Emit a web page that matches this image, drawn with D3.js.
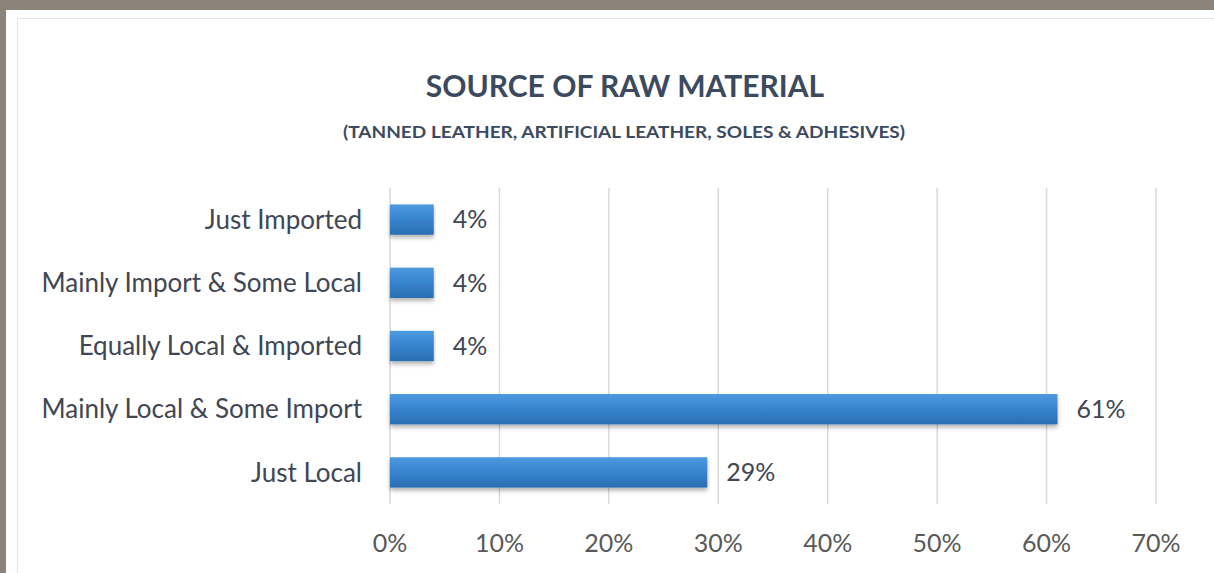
<!DOCTYPE html>
<html>
<head>
<meta charset="utf-8">
<script src="https://cdn.jsdelivr.net/npm/d3@7"></script>
<style>
  html, body { margin: 0; padding: 0; background: #8b8279; }
  #chart { width: 1214px; height: 573px; }
  text { font-family: Lato, "Open Sans", sans-serif; }
</style>
</head>
<body>
<div id="chart"></div>
<script>
// chart values
const categories = ["Just Imported", "Mainly Import & Some Local", "Equally Local & Imported", "Mainly Local & Some Import", "Just Local"];
const values = [4, 4, 4, 61, 29];
const xTicks = [0, 10, 20, 30, 40, 50, 60, 70];
const titleText = "SOURCE OF RAW MATERIAL";
const subtitleText = "(TANNED LEATHER, ARTIFICIAL LEATHER, SOLES & ADHESIVES)";

const W = 1214, H = 573;
const margin = {top: 188, left: 390};

const svg = d3.select("#chart").append("svg")
    .attr("width", W)
    .attr("height", H);

// gradient + shadow for the bars
const defs = svg.append("defs");
const grad = defs.append("linearGradient")
    .attr("id", "barGrad")
    .attr("x1", 0).attr("y1", 0).attr("x2", 0).attr("y2", 1);
grad.append("stop").attr("offset", "0%").attr("stop-color", "#4d9ae0");
grad.append("stop").attr("offset", "45%").attr("stop-color", "#3886d0");
grad.append("stop").attr("offset", "100%").attr("stop-color", "#2a6eb2");

const shadow = defs.append("filter").attr("id", "barShadow")
    .attr("x", "-5%").attr("y", "-20%").attr("width", "110%").attr("height", "160%");
shadow.append("feDropShadow")
    .attr("dx", 0).attr("dy", 3).attr("stdDeviation", 2)
    .attr("flood-color", "#000").attr("flood-opacity", 0.3);

// card
svg.append("rect")
    .attr("x", 6).attr("y", 10)
    .attr("width", W).attr("height", H)
    .attr("fill", "#fdfefe");
svg.append("rect")
    .attr("x", 17.5).attr("y", 18.5)
    .attr("width", W).attr("height", H)
    .attr("fill", "#ffffff")
    .attr("stroke", "#e2e4ea");

// titles
svg.append("text")
    .attr("x", 625).attr("y", 97)
    .attr("text-anchor", "middle")
    .style("font-size", "30px")
    .style("font-weight", "bold")
    .style("fill", "#3b4a5e")
    .text(titleText);

svg.append("text")
    .attr("x", 624).attr("y", 138)
    .attr("text-anchor", "middle")
    .attr("textLength", 562)
    .attr("lengthAdjust", "spacingAndGlyphs")
    .style("font-size", "17px")
    .style("font-weight", "bold")
    .style("fill", "#3b4a5e")
    .text(subtitleText);

const g = svg.append("g")
    .attr("transform", `translate(${margin.left}, ${margin.top})`);

const x = d3.scaleLinear()
    .domain([0, 70])
    .range([0, 766]);

const y = d3.scaleBand()
    .domain(categories)
    .range([0, 316])
    .paddingInner(0.52)
    .paddingOuter(0.26);

// gridlines
g.selectAll(".grid")
    .data(xTicks)
    .enter()
    .append("line")
    .attr("class", "grid")
    .attr("x1", d => x(d)).attr("x2", d => x(d))
    .attr("y1", 0).attr("y2", 316)
    .attr("stroke", "#d9d9d9")
    .attr("stroke-width", 1.5);

// x tick labels
g.selectAll(".xtick")
    .data(xTicks)
    .enter()
    .append("text")
    .attr("class", "xtick")
    .attr("x", d => x(d))
    .attr("y", 364)
    .attr("text-anchor", "middle")
    .style("font-size", "25px")
    .style("fill", "#595959")
    .text(d => d + "%");

const data = categories.map((c, i) => ({cat: c, val: values[i]}));

// bars
g.selectAll(".bar")
    .data(data)
    .enter()
    .append("rect")
    .attr("class", "bar")
    .attr("x", x(0))
    .attr("y", d => y(d.cat))
    .attr("width", d => x(d.val) - x(0))
    .attr("height", y.bandwidth())
    .attr("fill", "url(#barGrad)")
    .attr("filter", "url(#barShadow)");

// category labels
g.selectAll(".cat")
    .data(data)
    .enter()
    .append("text")
    .attr("class", "cat")
    .attr("x", -28)
    .attr("y", d => y(d.cat) + y.bandwidth() / 2)
    .attr("dy", "0.35em")
    .attr("text-anchor", "end")
    .style("font-size", "26px")
    .style("fill", "#404654")
    .text(d => d.cat);

// value labels
g.selectAll(".val")
    .data(data)
    .enter()
    .append("text")
    .attr("class", "val")
    .attr("x", d => x(d.val) + 19)
    .attr("y", d => y(d.cat) + y.bandwidth() / 2)
    .attr("dy", "0.35em")
    .style("font-size", "25px")
    .style("fill", "#404654")
    .text(d => d.val + "%");
</script>
</body>
</html>
